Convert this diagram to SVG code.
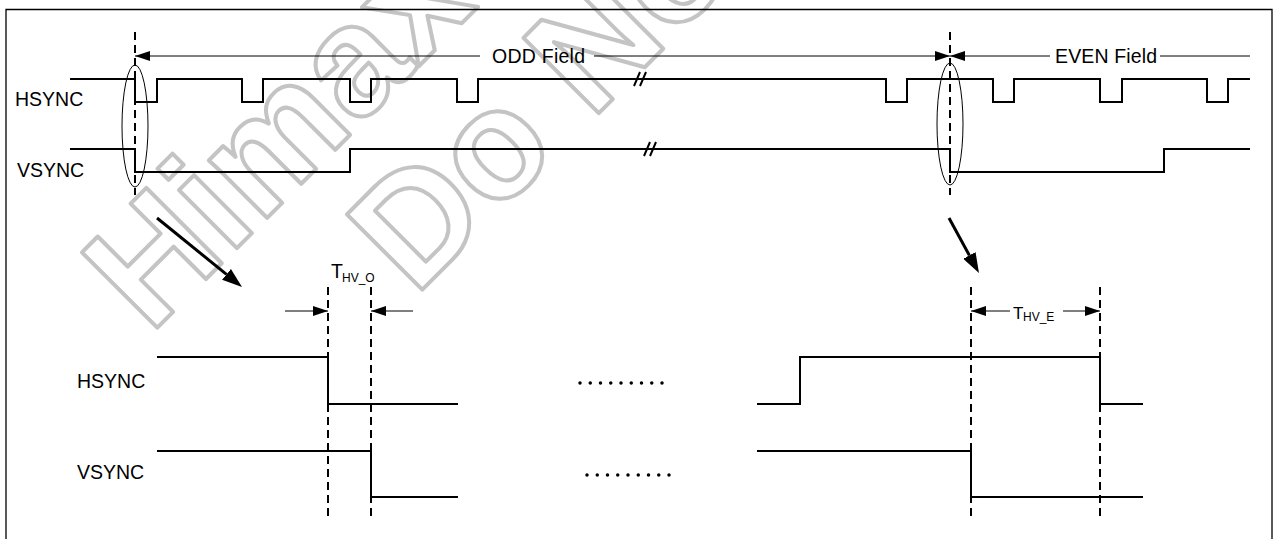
<svg xmlns="http://www.w3.org/2000/svg" width="1274" height="539" viewBox="0 0 1274 539">
<style>
.sig{fill:none;stroke:#000;stroke-width:2}
.thin{fill:none;stroke:#000;stroke-width:1}
.dash{fill:none;stroke:#000;stroke-width:2;stroke-dasharray:8 5}
.lbl{font-family:"Liberation Sans",Arial,sans-serif;font-size:19.5px;fill:#000}
.wm{font-family:"Liberation Sans",Arial,sans-serif;font-weight:bold;font-size:155px;fill:none;stroke:#c4c4c4;stroke-width:4;stroke-linejoin:round}
.dots{fill:none;stroke:#000;stroke-width:3.5;stroke-linecap:round;stroke-dasharray:0 10.25}
</style>
<defs>
<marker id="ah" viewBox="0 0 15 10" refX="15" refY="5" markerWidth="15" markerHeight="10" markerUnits="userSpaceOnUse" orient="auto"><path d="M0,0 L15,5 L0,10 z" fill="#000"/></marker>
<marker id="big" viewBox="0 0 20 14" refX="0" refY="7" markerWidth="20" markerHeight="14" markerUnits="userSpaceOnUse" orient="auto"><path d="M0,0 L20,7 L0,14 z" fill="#000"/></marker>
</defs>
<rect width="1274" height="539" fill="#fff"/>
<g id="watermark">
<text class="wm" transform="translate(150,335) rotate(-45)">Himax</text>
<text class="wm" transform="translate(415,297) rotate(-45)">Do Not</text>
</g>
<path d="M6,539 V9.5 H1272 V539" fill="none" stroke="#000" stroke-width="1.3"/>

<g id="top-labels">
<text class="lbl" x="15" y="106">HSYNC</text>
<text class="lbl" x="17" y="177">VSYNC</text>
</g>
<g id="top-hsync">
<path class="sig" d="M70,79 H135 V102 H157 V79 H242 V102 H263 V79 H350 V102 H371 V79 H457 V102 H478 V79 H886 V102 H907 V79 H993 V102 H1014 V79 H1100 V102 H1122 V79 H1207 V102 H1228 V79 H1250"/>
<path class="sig" stroke-width="2.5" d="M634,86 L640,72 M640,86 L646,72"/>
</g>
<g id="top-vsync">
<path class="sig" d="M70,149 H135 V172 H350 V149 H950 V172 H1164 V149 H1250"/>
<path class="sig" stroke-width="2.5" d="M644,156 L650,142 M650,156 L656,142"/>
</g>
<g id="field-markers">
<path class="dash" d="M135,32 V195"/>
<path class="dash" d="M950,32 V195"/>
<ellipse class="thin" cx="135" cy="126" rx="13" ry="61"/>
<ellipse class="thin" cx="950" cy="124" rx="13" ry="61"/>
</g>
<g id="odd-field">
<line class="thin" x1="480" y1="56" x2="135" y2="56" marker-end="url(#ah)"/>
<line class="thin" x1="594" y1="56" x2="950" y2="56" marker-end="url(#ah)"/>
<text class="lbl" x="492" y="63" textLength="93">ODD Field</text>
</g>
<g id="even-field">
<line class="thin" x1="1050" y1="56" x2="950" y2="56" marker-end="url(#ah)"/>
<line class="thin" x1="1160" y1="56" x2="1250" y2="56"/>
<text class="lbl" x="1055" y="63" textLength="102">EVEN Field</text>
</g>

<g id="connectors">
<line x1="157" y1="218" x2="226.5" y2="274.4" stroke="#000" stroke-width="3" marker-end="url(#big)"/>
<line x1="949" y1="218" x2="969.4" y2="255.4" stroke="#000" stroke-width="3" marker-end="url(#big)"/>
</g>

<g id="odd-detail">
<text class="lbl" x="77" y="388">HSYNC</text>
<text class="lbl" x="77" y="479">VSYNC</text>
<path class="sig" d="M157,357 H328 V404 H458"/>
<path class="sig" d="M157,451 H371 V497 H458"/>
<path class="dash" d="M328,287 V518"/>
<path class="dash" d="M371,287 V518"/>
<line class="thin" x1="285" y1="311" x2="328" y2="311" marker-end="url(#ah)"/>
<line class="thin" x1="413" y1="311" x2="371" y2="311" marker-end="url(#ah)"/>
<text class="lbl" x="331" y="278" font-size="17">T</text>
<text class="lbl" x="342" y="282" style="font-size:12px">HV_O</text>
</g>
<g id="ellipsis">
<path class="dots" d="M580,383 H663"/>
<path class="dots" d="M587,475 H670"/>
</g>
<g id="even-detail">
<path class="sig" d="M757,404 H800 V357 H1100 V404 H1143"/>
<path class="sig" d="M757,451 H971 V497 H1143"/>
<path class="dash" d="M971,287 V518"/>
<path class="dash" d="M1100,287 V518"/>
<line class="thin" x1="1010" y1="311" x2="971" y2="311" marker-end="url(#ah)"/>
<line class="thin" x1="1063" y1="311" x2="1100" y2="311" marker-end="url(#ah)"/>
<text class="lbl" x="1013" y="319" style="font-size:17px">T</text>
<text class="lbl" x="1023" y="321" style="font-size:12px">HV_E</text>
</g>
</svg>
